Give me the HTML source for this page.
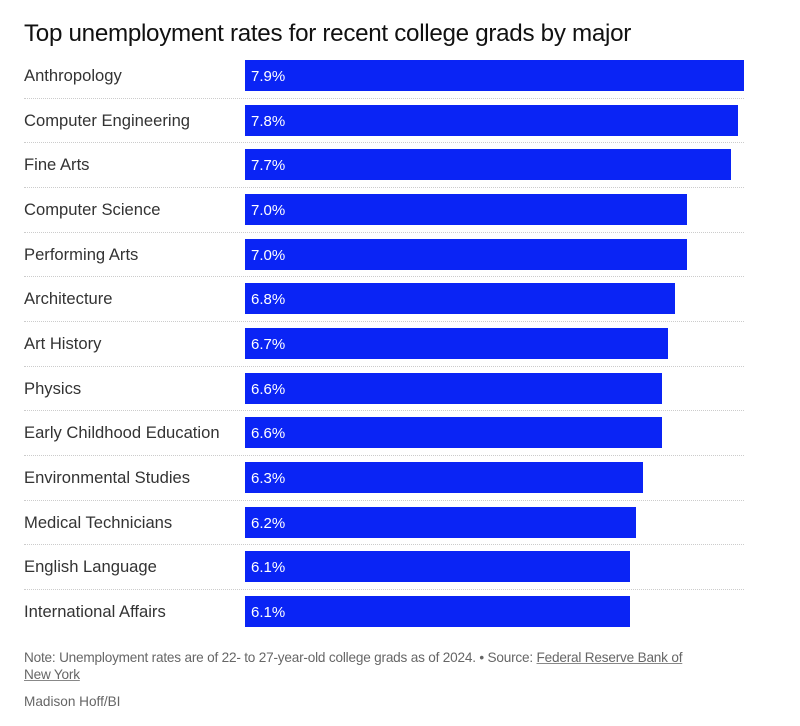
<!DOCTYPE html>
<html><head><meta charset="utf-8"><style>
body{margin:0;background:#fff;width:800px;height:726px;overflow:hidden;font-family:"Liberation Sans",sans-serif;position:relative}
.t{position:absolute;left:24px;top:20px;font-size:24.2px;color:#111;letter-spacing:-0.3px}
.row{position:absolute;left:24px;width:720px;height:44.67px}
.lab{position:absolute;left:0;top:0;height:31px;line-height:31px;font-size:16.6px;color:#333}
.bar{position:absolute;left:221px;top:0;height:31px;background:#0a24f5;color:#fff;font-size:15px;line-height:33px;padding-left:6px;box-sizing:border-box}
.sep{position:absolute;left:0;top:37.5px;width:720px;border-top:1px dotted #ccc}
.n{position:absolute;left:24px;top:649px;font-size:13.6px;color:#666;line-height:17px;width:705px;letter-spacing:-0.2px}
.n u{text-decoration-color:#888}
.c{position:absolute;left:24px;top:694px;font-size:13.6px;color:#666}
</style></head><body>
<div class="t">Top unemployment rates for recent college grads by major</div>
<div class="row" style="top:60px"><div class="lab">Anthropology</div><div class="bar" style="width:499px">7.9%</div><div class="sep"></div></div>
<div class="row" style="top:104.7px"><div class="lab">Computer Engineering</div><div class="bar" style="width:493px">7.8%</div><div class="sep"></div></div>
<div class="row" style="top:149.3px"><div class="lab">Fine Arts</div><div class="bar" style="width:486px">7.7%</div><div class="sep"></div></div>
<div class="row" style="top:194px"><div class="lab">Computer Science</div><div class="bar" style="width:442px">7.0%</div><div class="sep"></div></div>
<div class="row" style="top:238.7px"><div class="lab">Performing Arts</div><div class="bar" style="width:442px">7.0%</div><div class="sep"></div></div>
<div class="row" style="top:283.3px"><div class="lab">Architecture</div><div class="bar" style="width:430px">6.8%</div><div class="sep"></div></div>
<div class="row" style="top:328px"><div class="lab">Art History</div><div class="bar" style="width:423px">6.7%</div><div class="sep"></div></div>
<div class="row" style="top:372.7px"><div class="lab">Physics</div><div class="bar" style="width:417px">6.6%</div><div class="sep"></div></div>
<div class="row" style="top:417.3px"><div class="lab">Early Childhood Education</div><div class="bar" style="width:417px">6.6%</div><div class="sep"></div></div>
<div class="row" style="top:462px"><div class="lab">Environmental Studies</div><div class="bar" style="width:398px">6.3%</div><div class="sep"></div></div>
<div class="row" style="top:506.7px"><div class="lab">Medical Technicians</div><div class="bar" style="width:391px">6.2%</div><div class="sep"></div></div>
<div class="row" style="top:551.3px"><div class="lab">English Language</div><div class="bar" style="width:385px">6.1%</div><div class="sep"></div></div>
<div class="row" style="top:596px"><div class="lab">International Affairs</div><div class="bar" style="width:385px">6.1%</div></div>
<div class="n">Note: Unemployment rates are of 22- to 27-year-old college grads as of 2024. • Source: <u>Federal Reserve Bank of<br>New York</u></div>
<div class="c">Madison Hoff/BI</div>
</body></html>
